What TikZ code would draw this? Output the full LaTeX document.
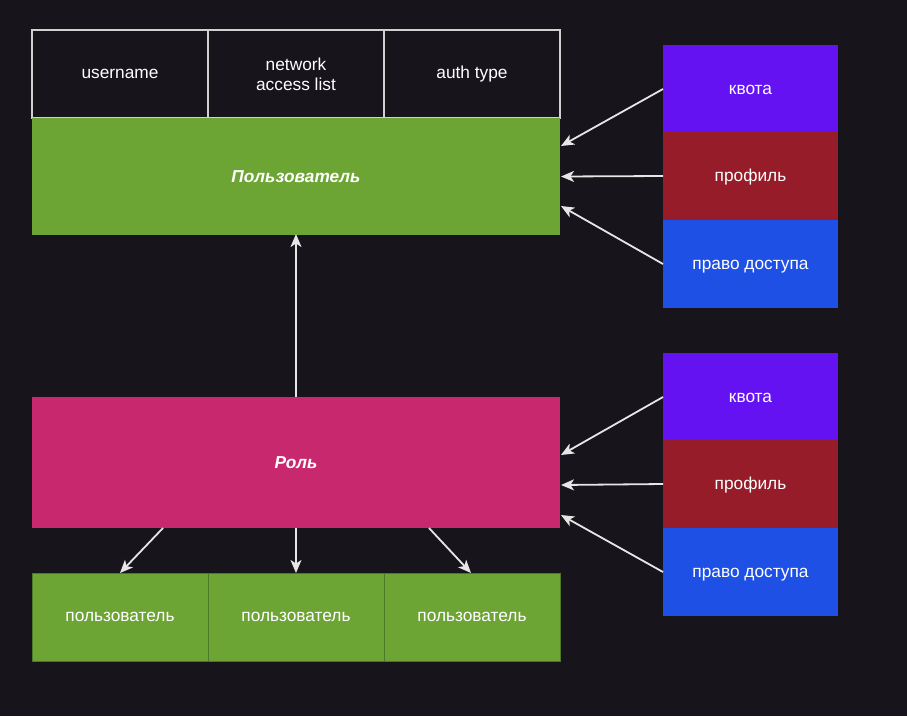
\documentclass[tikz,border=0pt]{standalone}
\usepackage{fontspec}
\setmainfont{Liberation Sans}
\usetikzlibrary{arrows.meta}
\definecolor{bgc}{HTML}{17141C}
\definecolor{grn}{HTML}{6DA535}
\definecolor{grnb}{HTML}{4A7A24}
\definecolor{pnk}{HTML}{C8286E}
\definecolor{vio}{HTML}{6412F2}
\definecolor{crm}{HTML}{961C2A}
\definecolor{cob}{HTML}{1E50E6}
\definecolor{lnc}{HTML}{E6E6E6}
\definecolor{fbd}{HTML}{D0D0D0}
\tikzset{
  box/.style={rectangle, anchor=north west, inner sep=0pt, outer sep=0pt, text=white, align=center,
    font=\fontsize{17.3}{20}\selectfont},
  field/.style={box, draw=fbd, fill=bgc, line width=1.6pt, minimum width=176pt, minimum height=88pt},
  big/.style={box, minimum width=528pt, font=\fontsize{17.3}{20}\selectfont\bfseries\itshape},
  side/.style={box, minimum width=175pt, minimum height=88pt, text height=12.5pt, text depth=2pt},
  member/.style={box, fill=grn, draw=grnb, line width=1pt, minimum width=176pt, minimum height=88pt},
  conn/.style={draw=lnc, line width=1.8pt, -{Stealth[length=13pt,width=11pt,inset=3.5pt]}}
}
\begin{document}
\begin{tikzpicture}[x=1pt,y=-1pt]
\fill[bgc] (0,0) rectangle (907,716);
\useasboundingbox (0,0) rectangle (907,716);
% top fields
\node[field] (un) at (32,30) {username};
\node[field] (nal) at (208,30) {network\\access list};
\node[field] (at) at (384,30) {auth type};
% user box
\node[big, fill=grn, minimum height=117pt] (user) at (32,118) {Пользователь};
% right boxes top
\node[side, fill=vio] (q1) at (663,45) {квота};
\node[side, fill=crm] (p1) at (663,132) {профиль};
\node[side, fill=cob] (r1) at (663,220) {право доступа};
% role
\node[big, fill=pnk, minimum height=131pt] (role) at (32,397) {Роль};
% right boxes bottom
\node[side, fill=vio] (q2) at (663,353) {квота};
\node[side, fill=crm] (p2) at (663,440) {профиль};
\node[side, fill=cob] (r2) at (663,528) {право доступа};
% members
\node[member] (m1) at (32,573) {пользователь};
\node[member] (m2) at (208,573) {пользователь};
\node[member] (m3) at (384,573) {пользователь};
% connectors top
\draw[conn] (q1.west) -- ([shift={(1,-30.5)}]user.east);
\draw[conn] (p1.west) -- ([xshift=1]user.east);
\draw[conn] (r1.west) -- ([shift={(1,29.5)}]user.east);
% connectors bottom
\draw[conn] (q2.west) -- ([shift={(1,-7.5)}]role.east);
\draw[conn] (p2.west) -- ([shift={(1,22.5)}]role.east);
\draw[conn] (r2.west) -- ([shift={(1,52.5)}]role.east);
% role to user
\draw[conn] (role.north) -- ([yshift=1]user.south);
% role to members
\draw[conn] ([xshift=-133]role.south) -- (m1.north);
\draw[conn] (role.south) -- (m2.north);
\draw[conn] ([xshift=133]role.south) -- ([xshift=-1]m3.north);
\end{tikzpicture}
\end{document}
